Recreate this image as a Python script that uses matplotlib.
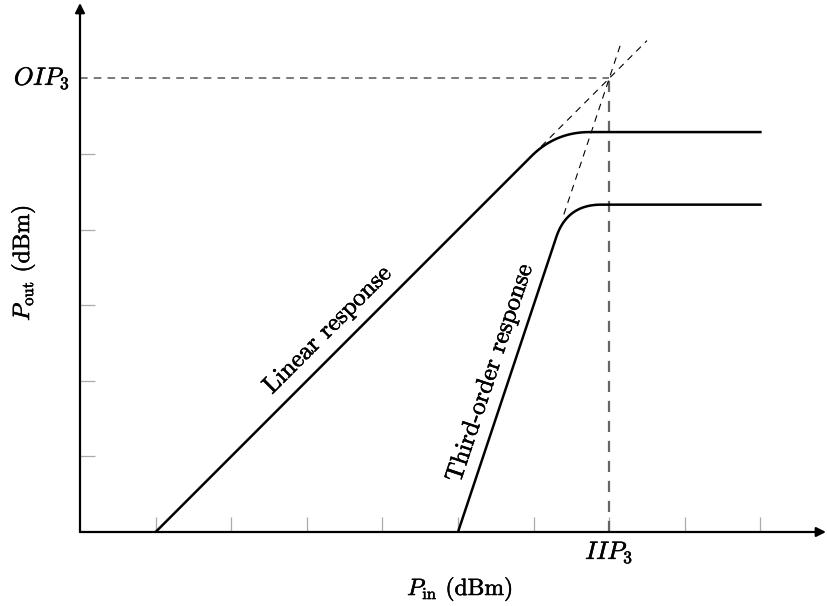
import numpy as np
import matplotlib
matplotlib.use("Agg")
import matplotlib.pyplot as plt
import matplotlib.patheffects as pe

plt.rcParams['font.family'] = 'serif'
plt.rcParams['font.serif'] = ['cmr10', 'DejaVu Serif']
plt.rcParams['mathtext.fontset'] = 'cm'
plt.rcParams['axes.unicode_minus'] = False

# data (in axis units)
tick_x = [1, 2, 3, 4, 5, 6, 7, 8, 9]
tick_y = [1, 2, 3, 4, 5]
iip3 = 7
oip3 = 6

# piecewise responses: start, knee, end
lin_x = [1, 6.29, 9]
lin_y = [0, 5.29, 5.29]
third_x = [5, 6.443, 9]
third_y = [0, 4.33, 4.33]

# extrapolations towards the intercept point
lin_ext_x = [6.1, 7.5]
lin_ext_y = [5.1, 6.5]
third_ext_x = [6.4, 7.167]
third_ext_y = [4.2, 6.5]


def rounded(xs, ys, r=0.45, n=40):
    # polyline with tikz-like rounded corners (quadratic bezier at each inner vertex)
    xs = np.asarray(xs, float)
    ys = np.asarray(ys, float)
    px, py = [xs[0]], [ys[0]]
    for i in range(1, len(xs) - 1):
        p0 = np.array([xs[i - 1], ys[i - 1]])
        p1 = np.array([xs[i], ys[i]])
        p2 = np.array([xs[i + 1], ys[i + 1]])
        a = p1 + (p0 - p1) / np.linalg.norm(p0 - p1) * r
        b = p1 + (p2 - p1) / np.linalg.norm(p2 - p1) * r
        t = np.linspace(0, 1, n)[:, None]
        c = (1 - t) ** 2 * a + 2 * (1 - t) * t * p1 + t ** 2 * b
        px += list(c[:, 0])
        py += list(c[:, 1])
    px.append(xs[-1])
    py.append(ys[-1])
    return px, py


unit = 75.6
fig = plt.figure(figsize=(8.27, 6.06), dpi=100)
ax = fig.add_axes([80 / 827, 74 / 606, 747 / 827, 532 / 606])
ax.set_xlim(0, 747 / unit)
ax.set_ylim(0, 532 / unit)
ax.axis('off')

# ticks (inside)
for t in tick_x:
    ax.plot([t, t], [0, 15 / unit], color='#aaaaaa', lw=0.9, solid_capstyle='butt')
for t in tick_y:
    ax.plot([0, 15 / unit], [t, t], color='#aaaaaa', lw=0.9, solid_capstyle='butt')

# guide lines at the intercept
ax.plot([0, iip3], [oip3, oip3], color='#555555', lw=1.1, dashes=(5, 4))
ax.plot([iip3, iip3], [0, oip3], color='#666666', lw=1.6, dashes=(5, 4))

# extrapolations
ax.plot(lin_ext_x, lin_ext_y, color='black', lw=0.8, dashes=(6, 5))
ax.plot(third_ext_x, third_ext_y, color='black', lw=0.8, dashes=(6, 5))

# responses
x, y = rounded(lin_x, lin_y)
ax.plot(x, y, color='black', lw=1.8)
x, y = rounded(third_x, third_y)
ax.plot(x, y, color='black', lw=1.8)

# axes with arrows
ax.annotate('', xy=(746 / unit, 0), xytext=(0, 0),
            arrowprops=dict(arrowstyle='-|>', color='black', lw=1.6,
                            mutation_scale=14, shrinkA=0, shrinkB=0),
            annotation_clip=False)
ax.annotate('', xy=(0, 529 / unit), xytext=(0, 0),
            arrowprops=dict(arrowstyle='-|>', color='black', lw=1.6,
                            mutation_scale=14, shrinkA=0, shrinkB=0),
            annotation_clip=False)

heavy = [pe.withStroke(linewidth=0.4, foreground='black')]
fs = 18
ax.text(iip3, -21 / unit, r'$IIP_3$', ha='center', va='center', fontsize=fs,
        clip_on=False, path_effects=heavy)
ax.text(-10 / unit, oip3, r'$OIP_3$', ha='right', va='center', fontsize=fs,
        clip_on=False, path_effects=heavy)

ax.text(380 / unit, -57 / unit, r'$P_{\rm in}$ (dBm)', ha='center', va='center',
        fontsize=17, clip_on=False, path_effects=heavy)
ax.text(-57 / unit, 269 / unit, r'$P_{\rm out}$ (dBm)', ha='center', va='center',
        rotation=90, fontsize=17, clip_on=False, path_effects=heavy)

ax.text(3.28, 2.67, 'Linear response', ha='center', va='center',
        rotation=45, rotation_mode='anchor', fontsize=fs, path_effects=heavy)
ang = np.degrees(np.arctan(3))
ax.text(5.43, 2.1, 'Third-order response', ha='center', va='center',
        rotation=ang, rotation_mode='anchor', fontsize=fs, path_effects=heavy)

fig.savefig('out.png', dpi=100)
